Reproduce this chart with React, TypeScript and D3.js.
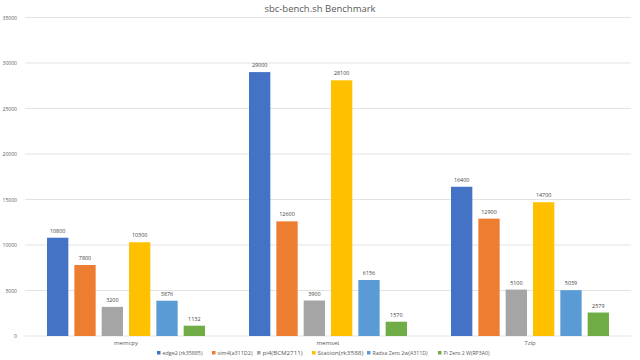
import React from "react";
import * as d3 from "d3";

const categories = ["memcpy", "memset", "7zip"];
const seriesNames = [
  "edge2 (rk35885)",
  "vim4(a311D2)",
  "pi4(BCM2711)",
  "Station(rk3588)",
  "Radxa Zero 2w(A311D)",
  "Pi Zero 2 W(RP3A0)",
];
const edge2 = [10800, 29000, 16400];
const vim4 = [7800, 12600, 12900];
const pi4 = [3200, 3900, 5100];
const station = [10300, 28100, 14700];
const radxa = [3876, 6156, 5039];
const pizero = [1132, 1570, 2579];
const seriesValues = [edge2, vim4, pi4, station, radxa, pizero];
const colors = ["#4472C4", "#ED7D31", "#A5A5A5", "#FFC000", "#5B9BD5", "#70AD47"];
const yTicks = [0, 5000, 10000, 15000, 20000, 25000, 30000, 35000];

const W = 640;
const H = 360;
const left = 25;
const right = 631;
const top = 17.5;
const bottom = 336;
const font = "'Open Sans', 'Noto Sans', sans-serif";

export default function App() {
  const y = d3.scaleLinear().domain([0, 35000]).range([bottom, top]);
  const x0 = d3.scaleBand<string>().domain(categories).range([left, right]).paddingInner(0.218).paddingOuter(0.109);
  const x1 = d3
    .scaleBand<number>()
    .domain(d3.range(seriesNames.length))
    .range([0, x0.bandwidth()])
    .paddingInner(0.22)
    .paddingOuter(0);

  // legend layout: marker x and text widths
  const legendX = [157, 212, 257, 312, 367, 438];
  const legendW = [40, 35, 40, 46, 55, 46];

  return (
    <svg
      width={W}
      height={H}
      style={{ position: "absolute", left: 0, top: 0, background: "#fff" }}
      fontFamily={font}
    >
      <rect x={0} y={0} width={W} height={H} fill="#fff" />
      <text x={320} y={12} textAnchor="middle" fontSize={9.5} fill="#595959">
        sbc-bench.sh Benchmark
      </text>
      {yTicks.map((t) => (
        <g key={t}>
          <line x1={left} x2={right} y1={y(t)} y2={y(t)} stroke="#e3e3e3" strokeWidth={1} />
          <text
            x={17}
            y={y(t) + 2}
            textAnchor="end"
            fontSize={5.5}
            fill="#595959"
            textLength={String(t).length * 2.9}
            lengthAdjust="spacingAndGlyphs"
          >
            {t}
          </text>
        </g>
      ))}
      {categories.map((c, ci) => (
        <g key={c} transform={`translate(${x0(c)},0)`}>
          {seriesValues.map((vals, si) => (
            <g key={si}>
              <rect
                x={x1(si)}
                y={y(vals[ci])}
                width={x1.bandwidth()}
                height={bottom - y(vals[ci])}
                fill={colors[si]}
              />
              <text
                x={(x1(si) as number) + x1.bandwidth() / 2}
                y={y(vals[ci]) - 5}
                textAnchor="middle"
                fontSize={5.8}
                fill="#404040"
                textLength={String(vals[ci]).length * 3.1}
                lengthAdjust="spacingAndGlyphs"
              >
                {vals[ci]}
              </text>
            </g>
          ))}
          <text x={x0.bandwidth() / 2} y={345} textAnchor="middle" fontSize={6} fill="#595959">
            {c}
          </text>
        </g>
      ))}
      {seriesNames.map((n, i) => (
        <g key={n} transform={`translate(${legendX[i]},355)`}>
          <rect x={0} y={-4} width={3.5} height={3.5} fill={colors[i]} />
          <text
            x={5.5}
            y={0}
            fontSize={6}
            fill="#595959"
            textLength={legendW[i]}
            lengthAdjust="spacingAndGlyphs"
          >
            {n}
          </text>
        </g>
      ))}
    </svg>
  );
}
